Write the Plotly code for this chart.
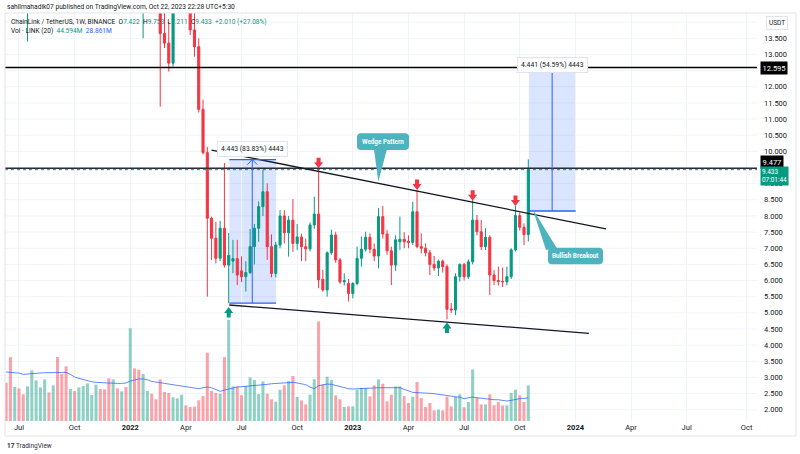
import pandas as pd
import plotly.graph_objects as go

# weekly bars, LINK/USDT (Binance), Jun 2021 - Oct 2023
dates = pd.date_range("2021-06-14", periods=123, freq="W-MON")

opens = [25.4, 20.6, 19.6, 20.1, 17.9, 15.8, 18.5, 20.9, 23.3, 26.1,
         26.8, 24.9, 31.8, 28.5, 27.5, 22.5, 25.4, 24.7, 26.8, 30.0,
         31.5, 33.5, 34.0, 27.5, 24.5, 21.0, 21.6, 19.8, 23.2, 20.7,
         25.0, 23.0, 16.5, 17.2, 18.8, 17.4, 14.9, 13.65, 13.35, 12.73,
         14.9, 16.4, 17.0, 15.1, 13.76, 13.24, 11.3, 9.96, 7.93, 7.31,
         6.69, 7.62, 6.48, 6.6, 6.68, 6.30, 6.12, 6.25, 7.05, 7.62,
         8.29, 8.75, 7.05, 6.22, 7.1, 8.0, 7.48, 7.87, 7.15, 7.35,
         7.05, 6.98, 7.72, 8.06, 6.04, 5.71, 6.86, 7.41, 6.64, 5.96,
         5.91, 5.6, 5.91, 6.69, 6.97, 7.34, 6.97, 6.76, 7.98, 7.44,
         6.92, 6.48, 7.2, 7.28, 7.22, 7.18, 8.13, 7.05, 7.0, 6.86,
         6.5, 6.39, 6.6, 6.43, 5.12, 5.09, 6.12, 6.5, 6.12, 6.58,
         7.87, 7.51, 7.05, 7.34, 6.17, 6.0, 5.97, 5.96, 6.12, 6.95,
         8.01, 7.65, 7.422]
highs = [27.8, 22.4, 21.5, 21.0, 18.6, 18.9, 22.2, 23.9, 29.1, 28.9,
         28.0, 33.5, 35.0, 30.5, 28.0, 26.0, 28.5, 28.0, 32.0, 33.0,
         36.5, 38.0, 34.5, 28.5, 26.5, 24.0, 22.0, 25.0, 27.0, 29.0,
         27.0, 23.5, 17.8, 19.5, 20.5, 18.5, 15.9, 15.5, 14.0, 15.5,
         17.0, 18.3, 17.9, 15.6, 14.9, 13.5, 11.6, 10.14, 7.98, 7.82,
         7.85, 9.64, 7.47, 7.26, 7.26, 6.75, 6.6, 7.6, 7.75, 8.45,
         9.44, 9.01, 7.43, 7.2, 8.18, 8.18, 8.0, 8.52, 7.75, 7.45,
         7.3, 7.8, 8.6, 9.68, 6.33, 6.9, 7.57, 7.51, 6.7, 6.22,
         6.05, 5.95, 7.05, 7.36, 7.51, 7.46, 7.15, 8.24, 8.31, 7.56,
         7.05, 7.4, 7.98, 7.5, 7.4, 8.44, 8.8, 7.46, 7.15, 6.95,
         6.76, 6.65, 6.65, 6.5, 5.3, 6.22, 6.53, 6.55, 6.65, 8.49,
         8.03, 7.87, 7.62, 7.4, 6.33, 6.43, 6.4, 6.43, 7.0, 8.31,
         8.1, 7.77, 9.753]
lows = [20.0, 15.5, 17.7, 17.6, 15.4, 13.4, 17.9, 19.4, 22.6, 23.9,
        24.3, 24.5, 24.0, 26.5, 21.0, 21.2, 24.0, 24.0, 26.0, 27.5,
        30.5, 32.5, 26.5, 23.5, 16.8, 18.3, 17.3, 19.5, 19.8, 20.0,
        22.5, 15.0, 13.5, 15.5, 16.5, 14.4, 11.38, 13.2, 12.47, 12.62,
        14.5, 15.8, 14.8, 13.6, 12.93, 11.2, 9.9, 5.5, 6.64, 6.53,
        6.6, 6.4, 5.30, 6.23, 5.86, 5.95, 5.66, 6.2, 6.5, 7.2,
        8.0, 6.64, 6.1, 6.1, 7.0, 7.15, 6.74, 6.89, 6.95, 6.6,
        6.6, 6.9, 7.6, 5.76, 5.66, 5.5, 6.8, 6.55, 5.9, 5.85,
        5.35, 5.45, 5.85, 6.43, 6.9, 6.85, 6.6, 6.38, 7.3, 6.8,
        5.86, 6.3, 6.95, 7.0, 7.0, 7.1, 7.0, 6.84, 6.75, 6.17,
        6.3, 6.14, 6.25, 4.8, 5.0, 4.93, 5.97, 6.0, 6.05, 6.5,
        7.4, 6.95, 6.95, 5.55, 5.86, 5.85, 5.8, 5.85, 6.05, 6.9,
        7.55, 7.1, 7.211]
closes = [20.6, 19.6, 20.1, 17.9, 15.8, 18.5, 20.9, 23.3, 26.1, 26.8,
          24.9, 31.8, 28.5, 27.5, 22.5, 25.4, 24.7, 26.8, 30.0, 31.5,
          33.5, 34.0, 27.5, 24.5, 21.0, 21.6, 19.8, 23.2, 20.7, 25.0,
          23.0, 16.5, 17.2, 18.8, 17.4, 14.9, 13.65, 13.35, 12.73, 14.9,
          16.4, 17.0, 15.1, 13.76, 13.24, 11.3, 9.96, 7.93, 7.31, 6.69,
          7.62, 6.48, 6.78, 6.68, 6.17, 6.12, 6.25, 7.05, 7.62, 8.29,
          8.75, 7.05, 6.22, 7.1, 8.0, 7.48, 7.87, 7.15, 7.35, 7.05,
          6.98, 7.72, 8.06, 6.02, 5.71, 6.86, 7.41, 6.64, 5.96, 6.0,
          5.6, 5.91, 6.69, 6.97, 7.34, 6.97, 6.76, 7.98, 7.44, 6.92,
          6.48, 7.26, 7.28, 7.2, 7.18, 8.13, 7.05, 7.0, 6.86, 6.5,
          6.39, 6.6, 6.43, 5.11, 5.09, 6.12, 6.5, 6.12, 6.58, 7.87,
          7.51, 7.05, 7.34, 6.17, 6.0, 5.97, 5.96, 6.12, 6.95, 8.01,
          7.65, 7.423, 9.433]

# volume in millions and its 20-week average
volume = [47.9, 79.9, 42.5, 40.8, 33.3, 43.3, 63.3, 50.8, 42.0, 52.0,
          35.8, 44.5, 79.9, 58.7, 68.3, 40.0, 37.5, 42.0, 43.7, 47.0,
          32.5, 45.4, 40.0, 39.5, 53.3, 52.0, 40.8, 37.1, 42.5, 116.0,
          65.8, 64.1, 58.7, 37.5, 34.1, 27.1, 52.0, 36.2, 35.0, 29.6,
          28.3, 32.9, 19.6, 17.5, 17.9, 25.8, 31.2, 85.3, 37.5, 35.0,
          34.1, 79.9, 126.6, 43.3, 43.3, 32.1, 43.7, 54.5, 51.2, 33.7,
          49.5, 34.1, 27.1, 24.1, 39.1, 44.5, 50.0, 56.2, 30.0, 25.8,
          20.8, 32.9, 52.0, 124.5, 45.8, 55.4, 51.2, 32.1, 27.1, 17.5,
          18.3, 18.3, 39.1, 41.2, 41.2, 30.8, 44.5, 52.0, 46.6, 24.6,
          32.9, 43.3, 43.3, 31.2, 22.5, 30.4, 48.7, 28.7, 17.5, 22.5,
          13.3, 14.2, 13.3, 30.4, 18.3, 30.0, 33.3, 17.1, 23.7, 64.5,
          28.7, 20.8, 20.8, 33.3, 19.6, 23.7, 19.6, 19.6, 35.0, 39.1,
          32.1, 23.7, 44.594]
vol_ma = [61.2, 60.8, 60.4, 59.9, 58.3, 58.7, 59.9, 60.4, 60.8, 60.4,
          60.4, 60.4, 60.4, 60.8, 60.8, 58.3, 55.0, 53.3, 51.6, 50.4,
          49.1, 48.3, 47.9, 47.5, 47.0, 47.0, 47.0, 47.0, 47.5, 50.0,
          51.2, 52.5, 52.5, 51.6, 49.5, 48.3, 47.9, 47.0, 46.2, 45.4,
          45.0, 44.1, 43.3, 42.5, 41.6, 40.4, 41.6, 42.5, 41.6, 39.1,
          37.1, 38.7, 40.0, 42.0, 42.5, 42.9, 43.3, 43.7, 43.7, 44.1,
          44.5, 45.8, 46.6, 47.0, 47.9, 47.9, 48.3, 48.3, 47.5, 46.2,
          45.4, 42.5, 40.4, 44.1, 45.4, 46.2, 45.8, 44.5, 42.9, 41.6,
          40.4, 40.0, 40.4, 40.8, 40.8, 41.2, 41.2, 41.6, 41.6, 41.6,
          42.0, 42.0, 41.6, 39.5, 37.5, 35.8, 35.4, 35.4, 35.0, 34.6,
          34.1, 33.3, 32.9, 32.1, 31.6, 30.8, 29.6, 27.9, 29.1, 30.0,
          29.1, 28.3, 27.5, 27.1, 26.6, 26.6, 25.4, 25.0, 25.8, 27.1,
          27.9, 28.3, 28.861]

tick_dates = ["2021-07-05", "2021-10-04", "2022-01-03", "2022-04-04", "2022-07-04",
              "2022-10-03", "2023-01-02", "2023-04-03", "2023-07-03", "2023-10-02",
              "2024-01-01", "2024-04-01", "2024-07-01", "2024-10-07"]
tick_text = ["Jul", "Oct", "<b>2022</b>", "Apr", "Jul", "Oct", "<b>2023</b>", "Apr",
             "Jul", "Oct", "<b>2024</b>", "Apr", "Jul", "Oct"]
# price labels shown on the scale (12.5 and 9.5 sit under the level tags)
price_ticks = [2.0, 2.5, 3.0, 3.5, 4.0, 4.5, 5.0, 5.5, 6.0, 6.5, 7.0, 7.5, 8.0, 8.5,
               9.0, 10.0, 10.5, 11.0, 11.5, 12.0, 13.0, 13.5]
grid_prices = [2.0, 2.5, 3.0, 3.5, 4.0, 4.5, 5.0, 5.5, 6.0, 6.5, 7.0, 7.5, 8.0, 8.5,
               9.0, 9.5, 10.0, 10.5, 11.0, 11.5, 12.0, 12.5, 13.0, 13.5, 14.0]

# drawings on the chart
res_level = 12.595
mid_level = 9.477
last_price = 9.433
upper_trend = (["2022-05-16", "2024-02-20"], [10.04, 7.60])
lower_trend = (["2022-06-14", "2024-01-23"], [5.243, 4.367])
range1 = dict(x0="2022-06-14", x1="2022-08-29 12:00", xm="2022-07-21 12:00", lo=5.30, hi=9.743,
              label="4.443 (83.83%) 4443")
range2 = dict(x0="2023-10-17", x1="2024-01-01 12:00", xm="2023-11-24", lo=8.154, hi=12.595,
              label="4.441 (54.59%) 4443")
down_marks = (["2022-11-07", "2023-04-17", "2023-07-17", "2023-09-25"], [9.475, 8.80, 8.47, 8.31])
up_marks = (["2022-06-13", "2023-06-05"], [5.18, 4.70])

UP, DOWN = "#089981", "#f23645"
UP_VOL, DOWN_VOL = "rgba(8,153,129,0.45)", "rgba(242,54,69,0.45)"
GRID, TXT = "#f0f3fa", "#131722"
BLUE = "#2962ff"
CALLOUT = "#4db3bf"
FONT = "Roboto"

# plot area in page pixels
L, R, T, B = 5, 757, 13, 421


def px(x):
    return (x - L) / (R - L)


def py(y):
    return (B - y) / (B - T)


last = dates[-1]
x_left = last + pd.Timedelta(weeks=(L - 528.3) / 4.28)
x_right = last + pd.Timedelta(weeks=(R - 528.3) / 4.28)

fig = go.Figure()

vol_colors = [UP_VOL if c >= o else DOWN_VOL for o, c in zip(opens, closes)]
fig.add_trace(go.Bar(x=dates, y=volume, marker=dict(color=vol_colors, line_width=0),
                     width=5.0 * 86400000, yaxis="y2", hoverinfo="skip"))
fig.add_trace(go.Scatter(x=dates, y=vol_ma, mode="lines", yaxis="y2",
                         line=dict(color="rgba(41,98,255,0.75)", width=1), hoverinfo="skip"))
fig.add_trace(go.Candlestick(
    x=dates, open=opens, high=highs, low=lows, close=closes,
    increasing=dict(line=dict(color=UP, width=1), fillcolor=UP),
    decreasing=dict(line=dict(color=DOWN, width=1), fillcolor=DOWN),
    whiskerwidth=0, hoverinfo="skip"))

shapes = []
# horizontal levels
shapes.append(dict(type="line", xref="paper", x0=0, x1=1, yref="y", y0=res_level, y1=res_level,
                   line=dict(color="#000000", width=1.5)))
shapes.append(dict(type="line", xref="paper", x0=0, x1=1, yref="y", y0=mid_level, y1=mid_level,
                   line=dict(color="#2a2e39", width=1.5)))
shapes.append(dict(type="line", xref="paper", x0=0, x1=1, yref="y", y0=last_price, y1=last_price,
                   line=dict(color=UP, width=1, dash="dot")))
# wedge lines
for xs, ys in (upper_trend, lower_trend):
    shapes.append(dict(type="line", xref="x", yref="y", x0=xs[0], x1=xs[1], y0=ys[0], y1=ys[1],
                       line=dict(color="#131722", width=1.3)))
# measured ranges
for r in (range1, range2):
    shapes.append(dict(type="rect", xref="x", yref="y", x0=r["x0"], x1=r["x1"], y0=r["lo"], y1=r["hi"],
                       fillcolor="rgba(41,98,255,0.17)", line_width=0, layer="below"))
    for lv in (r["lo"], r["hi"]):
        shapes.append(dict(type="line", xref="x", yref="y", x0=r["x0"], x1=r["x1"], y0=lv, y1=lv,
                           line=dict(color=BLUE, width=1.3)))
    shapes.append(dict(type="line", xref="x", yref="y", x0=r["xm"], x1=r["xm"], y0=r["lo"], y1=r["hi"],
                       line=dict(color=BLUE, width=1)))
    shapes.append(dict(type="path", xref="x", yref="y", xsizemode="pixel", ysizemode="pixel",
                       xanchor=r["xm"], yanchor=r["hi"], path="M -5,-5 L 0,0 L 5,-5",
                       line=dict(color=BLUE, width=1)))
# arrow marks
down_path = "M -4.5,6 L 0,0 L 4.5,6 L 2,6 L 2,10.5 L -2,10.5 L -2,6 Z"
up_path = "M -4.5,-6 L 0,0 L 4.5,-6 L 2,-6 L 2,-10.5 L -2,-10.5 L -2,-6 Z"
for xd, yd in zip(*down_marks):
    shapes.append(dict(type="path", xref="x", yref="y", xsizemode="pixel", ysizemode="pixel",
                       xanchor=xd, yanchor=yd, path=down_path, fillcolor=DOWN, line_width=0))
for xd, yd in zip(*up_marks):
    shapes.append(dict(type="path", xref="x", yref="y", xsizemode="pixel", ysizemode="pixel",
                       xanchor=xd, yanchor=yd, path=up_path, fillcolor=UP, line_width=0))


def rounded_box(x0, y0, x1, y1, r=4):
    ax0, ax1 = px(x0), px(x1)
    ay0, ay1 = py(y1), py(y0)
    rx, ry = r / (R - L), r / (B - T)
    return (f"M {ax0 + rx},{ay0} L {ax1 - rx},{ay0} Q {ax1},{ay0} {ax1},{ay0 + ry} "
            f"L {ax1},{ay1 - ry} Q {ax1},{ay1} {ax1 - rx},{ay1} L {ax0 + rx},{ay1} "
            f"Q {ax0},{ay1} {ax0},{ay1 - ry} L {ax0},{ay0 + ry} Q {ax0},{ay0} {ax0 + rx},{ay0} Z")


def tri(pts):
    return "M " + " L ".join(f"{px(a)},{py(b)}" for a, b in pts) + " Z"


for box, pointer in (((357, 133.3, 409, 150), [(374, 149), (387, 149), (378.3, 181.7)]),
                     ((548, 247.7, 603, 264.3), [(546, 250), (557, 248.5), (532.7, 209)])):
    shapes.append(dict(type="path", xref="paper", yref="paper", path=tri(pointer),
                       fillcolor=CALLOUT, line_width=0))
    shapes.append(dict(type="path", xref="paper", yref="paper", path=rounded_box(*box),
                       fillcolor=CALLOUT, line_width=0))

# frame lines
shapes.append(dict(type="rect", xref="paper", yref="paper", x0=px(5), x1=px(796), y0=py(436), y1=py(13),
                   line=dict(color="#e0e3eb", width=1)))

annotations = []


def note(text, x, y, size=7.5, color=TXT, xanchor="left", **kw):
    annotations.append(dict(text=text, x=x, y=y, xref="paper", yref="paper", showarrow=False,
                            xanchor=xanchor, yanchor="middle", font=dict(family=FONT, size=size, color=color),
                            **kw))


def g(v):
    return f"<span style='color:{UP}'>{v}</span>"


note("sahilmahadik07 published on TradingView.com, Oct 22, 2023 22:28 UTC+5:30", px(5), py(6.5), size=6.65)
note("ChainLink / TetherUS, 1W, BINANCE&nbsp;&nbsp;O" + g("7.422") + "&nbsp;&nbsp;H" + g("9.753")
     + "&nbsp;&nbsp;L" + g("7.211") + "&nbsp;&nbsp;C" + g("9.433") + "&nbsp;&nbsp;" + g("+2.010 (+27.08%)"),
     px(9), py(22.3), size=6.6)
note("Vol · LINK (20)&nbsp;&nbsp;" + g("44.594M") + "&nbsp;&nbsp;<span style='color:#2962ff'>28.861M</span>",
     px(9), py(31.5), size=6.6)
note("<b>Wedge Pattern</b>", px(383), py(141.7), size=6.3, color="white", xanchor="center")
note("<b>Bullish Breakout</b>", px(575.5), py(256), size=6.3, color="white", xanchor="center")
note("<b>17</b> TradingView", px(5), py(446), size=6.5, color="#2a2e39")
note("USDT", px(776.5), py(23), size=6.5, xanchor="center", bgcolor="white", bordercolor="#e0e3eb",
     borderwidth=1, borderpad=2)

for r, yv in ((range1, py(149)), (range2, py(57))):
    annotations.append(dict(text=r["label"], x=r["xm"], xref="x", y=yv, yref="paper", showarrow=False,
                            font=dict(family=FONT, size=6.8, color=TXT), bgcolor="white",
                            bordercolor="#e0e3eb", borderwidth=1, borderpad=3))

# price-scale tags
annotations.append(dict(text="12.595", x=px(760), xref="paper", xanchor="left", y=res_level, yref="y",
                        showarrow=False, font=dict(family=FONT, size=7.5, color="white"),
                        bgcolor="#000000", borderpad=1.5))
annotations.append(dict(text="9.477", x=px(760), xref="paper", xanchor="left", y=mid_level, yref="y",
                        yshift=6, showarrow=False, font=dict(family=FONT, size=7.5, color="white"),
                        bgcolor="#000000", borderpad=1.5))
annotations.append(dict(text="9.433<br>07:01:44", x=px(760), xref="paper", xanchor="left", y=last_price,
                        yref="y", yanchor="top", yshift=4, showarrow=False, align="left",
                        font=dict(family=FONT, size=6.4, color="white"), bgcolor=UP, borderpad=1))

fig.update_layout(
    width=800, height=454, margin=dict(l=L, r=800 - R, t=T, b=454 - B),
    paper_bgcolor="white", plot_bgcolor="white", showlegend=False,
    font=dict(family=FONT, color=TXT),
    xaxis=dict(type="date", range=[x_left, x_right], tickvals=tick_dates, ticktext=tick_text,
               showgrid=True, gridcolor=GRID, gridwidth=1, zeroline=False, showline=False, ticks="",
               tickfont=dict(size=7.5, color=TXT), rangeslider=dict(visible=False), fixedrange=True),
    yaxis=dict(range=[1.652, 14.283], side="right", tickvals=price_ticks, tickformat=".3f",
               showgrid=False, zeroline=False, showline=False, ticks="",
               ticklabelstandoff=6, tickfont=dict(size=7.5, color=TXT), fixedrange=True),
    yaxis2=dict(overlaying="y", range=[0, 510], visible=False, fixedrange=True),
    shapes=[dict(type="line", xref="paper", x0=0, x1=1, yref="y", y0=gp, y1=gp, layer="below",
                 line=dict(color=GRID, width=1)) for gp in grid_prices] + shapes,
    annotations=annotations,
)

# the page itself has no body margin, so the chart sits flush in the window
fig.write_html("out.html", config={"displayModeBar": False},
               post_script="document.body.style.margin='0px';")
